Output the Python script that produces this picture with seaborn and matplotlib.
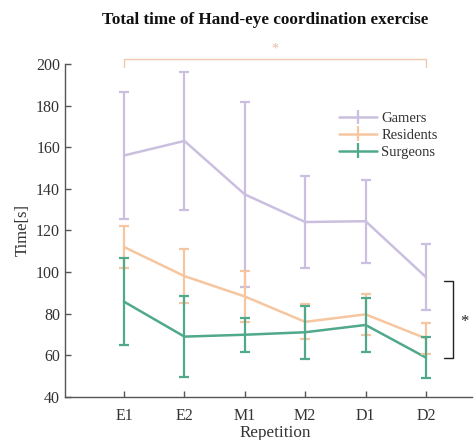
import numpy as np
import pandas as pd
import seaborn as sns
import matplotlib.pyplot as plt

# data
reps = ['E1', 'E2', 'M1', 'M2', 'D1', 'D2']
groups = ['Gamers', 'Residents', 'Surgeons']

gamers_mean = [156, 163, 137.3, 124, 124.4, 97.5]
gamers_sd = [30.7, 33, 44.4, 22.3, 20, 16]
residents_mean = [112, 98, 88.2, 76, 79.6, 68]
residents_sd = [10, 13, 12.3, 8.4, 9.8, 7.5]
surgeons_mean = [85.7, 68.9, 69.8, 71, 74.5, 58.8]
surgeons_sd = [20.8, 19.5, 8.2, 12.8, 13, 10]

colors = {'Gamers': '#cbbfe0', 'Residents': '#f6c6a0', 'Surgeons': '#4fa98a'}

means = {'Gamers': gamers_mean, 'Residents': residents_mean, 'Surgeons': surgeons_mean}
sds = {'Gamers': gamers_sd, 'Residents': residents_sd, 'Surgeons': surgeons_sd}

rows = []
for g in groups:
    for i, r in enumerate(reps):
        rows.append({'group': g, 'rep': r, 'x': i + 1, 'time': means[g][i], 'sd': sds[g][i]})
df = pd.DataFrame(rows)

sns.set_style('ticks')
plt.rcParams['font.family'] = ['Liberation Serif', 'DejaVu Serif']

W, H = 476, 440
fig = plt.figure(figsize=(W / 100, H / 100), dpi=100)
ax = fig.add_axes([65 / W, 1 - 396.7 / H, (472 - 65) / W, (396.7 - 64) / H])

sns.lineplot(data=df, x='x', y='time', hue='group', hue_order=groups,
             palette=colors, linewidth=1.8, legend=False, ax=ax)

handles = []
for g in groups:
    d = df[df.group == g]
    ax.errorbar(d.x, d.time, yerr=d.sd, fmt='none', ecolor=colors[g],
                elinewidth=1.6, capsize=3.5, capthick=1.6)
    handles.append(ax.errorbar([], [], yerr=[], color=colors[g], elinewidth=1.6,
                               lw=1.8, capsize=3.5, capthick=1.6, label=g))

ax.set_xlim(1 - 59 / 60.4, 1 + (472 - 124) / 60.4)
ax.set_ylim(40, 200)
ax.set_xticks(range(1, 7))
ax.set_xticklabels(reps)
ax.set_yticks(range(40, 201, 20))

gray = '#555555'
for s in ['top', 'right']:
    ax.spines[s].set_visible(False)
for s in ['left', 'bottom']:
    ax.spines[s].set_color(gray)
    ax.spines[s].set_linewidth(1.0)
ax.tick_params(direction='in', length=4, width=1, colors=gray, labelsize=11.5,
               labelcolor='#333333')
ax.tick_params(axis='x', pad=8)

ax.set_xlabel('Repetition', fontsize=12.3, color='#333333')
ax.xaxis.set_label_coords((275 - 65) / (472 - 65), -(433 - 396.7) / (396.7 - 64))
ax.xaxis.label.set_va('center')
ax.set_ylabel('Time[s]', fontsize=12, color='#333333', labelpad=4)

ax.legend(handles=handles, labels=groups, loc='upper left',
          bbox_to_anchor=((333 - 65) / (472 - 65), 1 - (106 - 64) / (396.7 - 64)),
          frameon=False, fontsize=10.5, handlelength=2.6, handletextpad=0.3,
          labelspacing=0.25, borderaxespad=0, labelcolor='#333333')

# significance bracket on top (Gamers vs others, orange)
ax.plot([1, 1, 6, 6], [198.5, 202.2, 202.2, 198.5], color='#f2c8ad', lw=1.0,
        clip_on=False)
ax.text(3.5, 207, '*', color='#e8bca0', fontsize=10, ha='center', va='center')

# bracket on right side
ax.plot([6.30, 6.44, 6.44, 6.30], [95.6, 95.6, 58.8, 58.8], color='#222222',
        lw=1.0, clip_on=False)
ax.text(6.63, 76, '*', color='#222222', fontsize=12, ha='center', va='center')

fig.text(265 / W, 1 - 20 / H, 'Total time of Hand-eye coordination exercise',
         fontsize=12.3, fontweight='bold', ha='center', va='center', color='#111111')

fig.savefig('out.png', dpi=100)
